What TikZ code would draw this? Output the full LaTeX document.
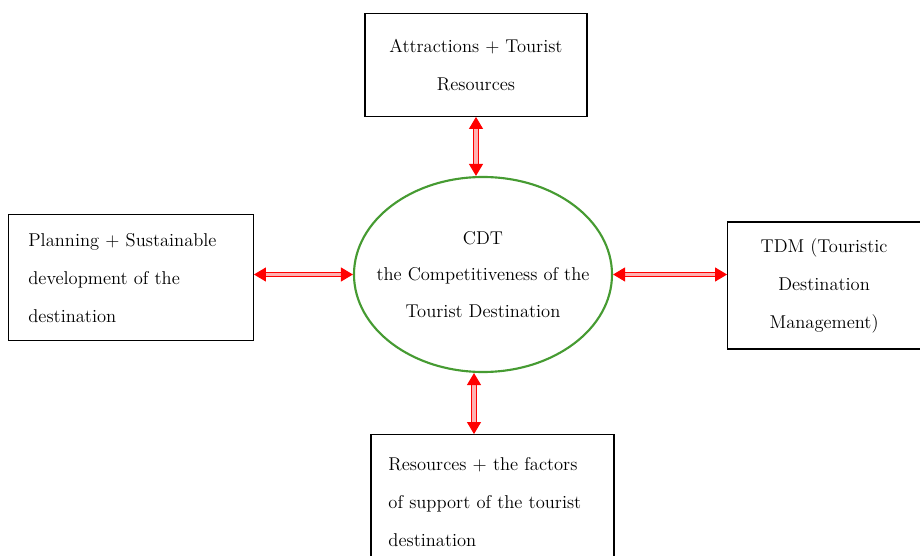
\documentclass[tikz,border=0pt]{standalone}
\usepackage{tikz}
\usetikzlibrary{arrows.meta, positioning, shapes.geometric}
\definecolor{cdtgreen}{RGB}{70,155,50}

\begin{document}
\begin{tikzpicture}[
      box/.style={rectangle, draw, thick, inner sep=0pt, font=\fontsize{13.9}{28.5}\selectfont},
      arrow/.style={{Triangle[length=9pt, width=10.5pt]}-{Triangle[length=9pt, width=10.5pt]}, draw=red, line width=0.8pt, double=red!30, double distance=2.8pt},
      node distance=44pt and 74pt
    ]

    % Centre
    \node[ellipse, draw=cdtgreen, line width=1.6pt, inner xsep=-14pt, inner ysep=0pt,
          minimum width=193.5pt, minimum height=146.25pt, align=center,
          font=\fontsize{13.9}{27.5}\selectfont] (cdt) at (0,0)
          {CDT\\the Competitiveness of the\\Tourist Destination};
    \useasboundingbox (-362.25pt,-211.125pt) rectangle (327.75pt,205.875pt);

    % Boxes
    \node[box, above=44.25pt of cdt, xshift=-5.25pt, minimum width=166.5pt, minimum height=77.25pt, align=center] (attr)
          {Attractions + Tourist\\Resources};
    \node[box, left=74.25pt of cdt, yshift=-2.6pt, minimum width=183.75pt, minimum height=94.5pt,
          text width=153.75pt, align=left] (plan)
          {Planning + Sustainable\\development of the\\destination};
    \node[box, right=85.5pt of cdt, yshift=-8.25pt, minimum width=144.75pt, minimum height=95.25pt, align=center] (tdm)
          {TDM (Touristic\\Destination\\Management)};
    \node[box, below=45.75pt of cdt, xshift=7.1pt, minimum width=182.25pt, minimum height=100.5pt,
          text width=156pt, align=left] (res)
          {Resources + the factors\\of support of the tourist\\destination};

    % Arrows
    \draw[arrow] (attr.south) -- (attr.south |- cdt.north);
    \draw[arrow] (cdt.west -| plan.east) -- (cdt.west);
    \draw[arrow] (cdt.east) -- (cdt.east -| tdm.west);
    \draw[arrow] ([xshift=-6.75pt]cdt.south) -- ([xshift=-6.75pt]cdt.south |- res.north);

\end{tikzpicture}
\end{document}
